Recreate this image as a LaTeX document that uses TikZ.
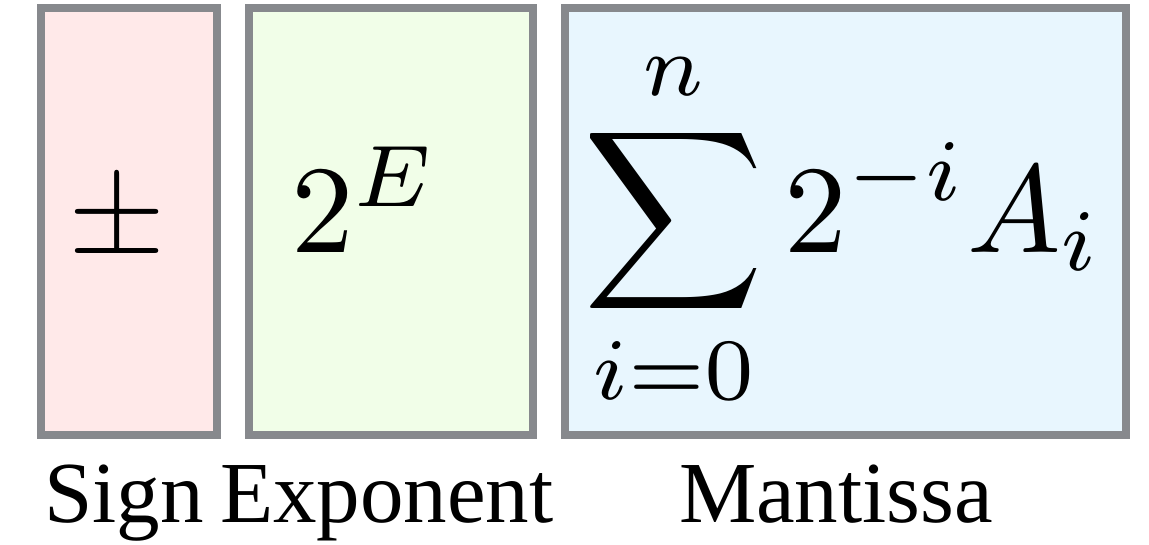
\documentclass[tikz,border=0pt]{standalone}
\usepackage{graphicx}
\usepackage[no-math]{fontspec}
\newfontfamily\labelfont{Liberation Serif}
\definecolor{bordergray}{HTML}{87898D}
\definecolor{signfill}{HTML}{FFE9E9}
\definecolor{expfill}{HTML}{F1FEE8}
\definecolor{mantfill}{HTML}{E8F6FE}
\newcommand{\bigmath}[1]{\scalebox{12.5}{#1}}
\tikzset{
  fieldbox/.style={draw=bordergray, line width=8pt, minimum height=427pt, inner sep=0pt, outer sep=0pt},
  mathtext/.style={inner sep=0pt, outer sep=0pt},
  labeltext/.style={inner sep=0pt, outer sep=0pt, anchor=base west, font=\labelfont\fontsize{87}{100}\selectfont}
}
\begin{document}
\begin{tikzpicture}[x=1pt,y=-1pt]
\useasboundingbox (0,0) rectangle (1149,544);
\node[fieldbox, fill=signfill, minimum width=176pt] (sign) at (129,221.5) {};
\node[fieldbox, fill=expfill, minimum width=284pt] (exp) at (391,221.5) {};
\node[fieldbox, fill=mantfill, minimum width=561pt] (mant) at (845.5,221.5) {};
\node[mathtext, anchor=base] (pm) at (117.5,253) {\bigmath{$\pm$}};
\node[mathtext, anchor=base west] (pow) at (291,252) {\bigmath{$2^{E}$}};
\node[mathtext, anchor=base] (sum) at (843,252) {\bigmath{$\displaystyle\sum_{i=0}^{n}2^{-i}A_i$}};
\node[labeltext] (lsign) at (44,522) {Sign};
\node[labeltext] (lexp) at (220,522) {Exponent};
\node[labeltext] (lmant) at (679,522) {Mantissa};
\end{tikzpicture}
\end{document}
